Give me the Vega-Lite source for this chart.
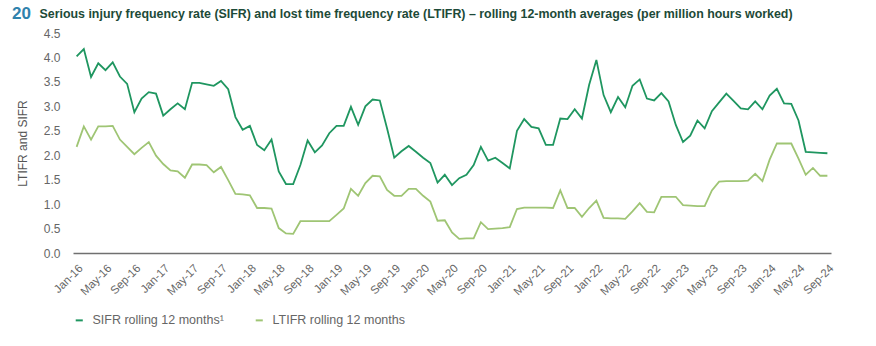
{
  "$schema": "https://vega.github.io/schema/vega-lite/v6.json",
  "width": 758,
  "height": 220,
  "autosize": {"type": "none"},
  "padding": {"left": 73, "top": 33, "right": 45, "bottom": 93},
  "background": "white",
  "config": {"view": {"stroke": null}, "font": "Liberation Sans"},
  "title": {
    "text": "20",
    "subtitle": "\u200b\u00a0\u00a0\u00a0\u00a0\u00a0\u00a0\u00a0\u00a0Serious injury frequency rate (SIFR) and lost time frequency rate (LTIFR) – rolling 12-month averages (per million hours worked)",
    "anchor": "start",
    "frame": "group",
    "dx": -61,
    "offset": 4,
    "fontSize": 17,
    "fontWeight": "bold",
    "color": "#2f82ad",
    "subtitleFontSize": 12.4,
    "subtitleFontWeight": "bold",
    "subtitleColor": "#1d4a38",
    "subtitlePadding": -15,
    "baseline": "top"
  },
  "data": {
    "values": [
      {"m":"Jan-16","SIFR":4.02,"LTIFR":2.17},{"m":"Feb-16","SIFR":4.17,"LTIFR":2.59},{"m":"Mar-16","SIFR":3.60,"LTIFR":2.32},{"m":"Apr-16","SIFR":3.88,"LTIFR":2.59},{"m":"May-16","SIFR":3.74,"LTIFR":2.59},{"m":"Jun-16","SIFR":3.90,"LTIFR":2.60},{"m":"Jul-16","SIFR":3.61,"LTIFR":2.32},{"m":"Aug-16","SIFR":3.46,"LTIFR":2.17},{"m":"Sep-16","SIFR":2.88,"LTIFR":2.02},{"m":"Oct-16","SIFR":3.16,"LTIFR":2.15},{"m":"Nov-16","SIFR":3.29,"LTIFR":2.27},{"m":"Dec-16","SIFR":3.26,"LTIFR":1.99},
      {"m":"Jan-17","SIFR":2.81,"LTIFR":1.82},{"m":"Feb-17","SIFR":2.94,"LTIFR":1.69},{"m":"Mar-17","SIFR":3.06,"LTIFR":1.67},{"m":"Apr-17","SIFR":2.94,"LTIFR":1.54},{"m":"May-17","SIFR":3.48,"LTIFR":1.81},{"m":"Jun-17","SIFR":3.48,"LTIFR":1.81},{"m":"Jul-17","SIFR":3.45,"LTIFR":1.80},{"m":"Aug-17","SIFR":3.42,"LTIFR":1.65},{"m":"Sep-17","SIFR":3.52,"LTIFR":1.76},{"m":"Oct-17","SIFR":3.35,"LTIFR":1.49},{"m":"Nov-17","SIFR":2.78,"LTIFR":1.21},{"m":"Dec-17","SIFR":2.52,"LTIFR":1.20},
      {"m":"Jan-18","SIFR":2.60,"LTIFR":1.18},{"m":"Feb-18","SIFR":2.21,"LTIFR":0.92},{"m":"Mar-18","SIFR":2.10,"LTIFR":0.92},{"m":"Apr-18","SIFR":2.32,"LTIFR":0.91},{"m":"May-18","SIFR":1.67,"LTIFR":0.51},{"m":"Jun-18","SIFR":1.41,"LTIFR":0.40},{"m":"Jul-18","SIFR":1.41,"LTIFR":0.39},{"m":"Aug-18","SIFR":1.80,"LTIFR":0.65},{"m":"Sep-18","SIFR":2.30,"LTIFR":0.65},{"m":"Oct-18","SIFR":2.06,"LTIFR":0.65},{"m":"Nov-18","SIFR":2.20,"LTIFR":0.65},{"m":"Dec-18","SIFR":2.45,"LTIFR":0.65},
      {"m":"Jan-19","SIFR":2.60,"LTIFR":0.78},{"m":"Feb-19","SIFR":2.60,"LTIFR":0.91},{"m":"Mar-19","SIFR":2.99,"LTIFR":1.31},{"m":"Apr-19","SIFR":2.62,"LTIFR":1.17},{"m":"May-19","SIFR":3.00,"LTIFR":1.43},{"m":"Jun-19","SIFR":3.14,"LTIFR":1.58},{"m":"Jul-19","SIFR":3.12,"LTIFR":1.57},{"m":"Aug-19","SIFR":2.55,"LTIFR":1.29},{"m":"Sep-19","SIFR":1.95,"LTIFR":1.17},{"m":"Oct-19","SIFR":2.08,"LTIFR":1.17},{"m":"Nov-19","SIFR":2.19,"LTIFR":1.31},{"m":"Dec-19","SIFR":2.07,"LTIFR":1.31},
      {"m":"Jan-20","SIFR":1.95,"LTIFR":1.17},{"m":"Feb-20","SIFR":1.84,"LTIFR":1.05},{"m":"Mar-20","SIFR":1.44,"LTIFR":0.66},{"m":"Apr-20","SIFR":1.60,"LTIFR":0.67},{"m":"May-20","SIFR":1.39,"LTIFR":0.42},{"m":"Jun-20","SIFR":1.53,"LTIFR":0.29},{"m":"Jul-20","SIFR":1.60,"LTIFR":0.30},{"m":"Aug-20","SIFR":1.80,"LTIFR":0.30},{"m":"Sep-20","SIFR":2.17,"LTIFR":0.63},{"m":"Oct-20","SIFR":1.89,"LTIFR":0.49},{"m":"Nov-20","SIFR":1.95,"LTIFR":0.50},{"m":"Dec-20","SIFR":1.84,"LTIFR":0.51},
      {"m":"Jan-21","SIFR":1.73,"LTIFR":0.53},{"m":"Feb-21","SIFR":2.50,"LTIFR":0.90},{"m":"Mar-21","SIFR":2.74,"LTIFR":0.93},{"m":"Apr-21","SIFR":2.58,"LTIFR":0.93},{"m":"May-21","SIFR":2.55,"LTIFR":0.93},{"m":"Jun-21","SIFR":2.21,"LTIFR":0.93},{"m":"Jul-21","SIFR":2.21,"LTIFR":0.92},{"m":"Aug-21","SIFR":2.75,"LTIFR":1.28},{"m":"Sep-21","SIFR":2.74,"LTIFR":0.92},{"m":"Oct-21","SIFR":2.94,"LTIFR":0.92},{"m":"Nov-21","SIFR":2.75,"LTIFR":0.74},{"m":"Dec-21","SIFR":3.44,"LTIFR":0.92},
      {"m":"Jan-22","SIFR":3.95,"LTIFR":1.07},{"m":"Feb-22","SIFR":3.23,"LTIFR":0.72},{"m":"Mar-22","SIFR":2.88,"LTIFR":0.71},{"m":"Apr-22","SIFR":3.19,"LTIFR":0.71},{"m":"May-22","SIFR":2.98,"LTIFR":0.70},{"m":"Jun-22","SIFR":3.42,"LTIFR":0.85},{"m":"Jul-22","SIFR":3.55,"LTIFR":1.02},{"m":"Aug-22","SIFR":3.16,"LTIFR":0.84},{"m":"Sep-22","SIFR":3.12,"LTIFR":0.83},{"m":"Oct-22","SIFR":3.27,"LTIFR":1.15},{"m":"Nov-22","SIFR":3.10,"LTIFR":1.15},{"m":"Dec-22","SIFR":2.62,"LTIFR":1.15},
      {"m":"Jan-23","SIFR":2.27,"LTIFR":0.98},{"m":"Feb-23","SIFR":2.40,"LTIFR":0.97},{"m":"Mar-23","SIFR":2.71,"LTIFR":0.96},{"m":"Apr-23","SIFR":2.55,"LTIFR":0.96},{"m":"May-23","SIFR":2.90,"LTIFR":1.28},{"m":"Jun-23","SIFR":3.08,"LTIFR":1.46},{"m":"Jul-23","SIFR":3.26,"LTIFR":1.47},{"m":"Aug-23","SIFR":3.11,"LTIFR":1.47},{"m":"Sep-23","SIFR":2.96,"LTIFR":1.47},{"m":"Oct-23","SIFR":2.94,"LTIFR":1.48},{"m":"Nov-23","SIFR":3.10,"LTIFR":1.62},{"m":"Dec-23","SIFR":2.94,"LTIFR":1.47},
      {"m":"Jan-24","SIFR":3.22,"LTIFR":1.91},{"m":"Feb-24","SIFR":3.36,"LTIFR":2.24},{"m":"Mar-24","SIFR":3.06,"LTIFR":2.24},{"m":"Apr-24","SIFR":3.05,"LTIFR":2.24},{"m":"May-24","SIFR":2.71,"LTIFR":1.93},{"m":"Jun-24","SIFR":2.07,"LTIFR":1.60},{"m":"Jul-24","SIFR":2.06,"LTIFR":1.74},{"m":"Aug-24","SIFR":2.05,"LTIFR":1.58},{"m":"Sep-24","SIFR":2.04,"LTIFR":1.58}
    ]
  },
  "transform": [{"fold": ["SIFR", "LTIFR"], "as": ["series", "value"]}],
  "mark": {"type": "line", "strokeWidth": 1.8},
  "encoding": {
    "x": {
      "field": "m",
      "type": "ordinal",
      "sort": null,
      "scale": {"type": "point", "padding": 0.5},
      "axis": {
        "title": null,
        "values": ["Jan-16","May-16","Sep-16","Jan-17","May-17","Sep-17","Jan-18","May-18","Sep-18","Jan-19","May-19","Sep-19","Jan-20","May-20","Sep-20","Jan-21","May-21","Sep-21","Jan-22","May-22","Sep-22","Jan-23","May-23","Sep-23","Jan-24","May-24","Sep-24"],
        "labelAngle": -45,
        "labelAlign": "right",
        "labelBaseline": "top",
        "labelPadding": 9,
        "labelFontSize": 11.5,
        "labelColor": "#666666",
        "ticks": false,
        "domainColor": "#707070",
        "domainWidth": 1.5,
        "grid": false
      }
    },
    "y": {
      "field": "value",
      "type": "quantitative",
      "scale": {"domain": [0, 4.5]},
      "axis": {
        "title": "LTIFR and SIFR",
        "titleFontSize": 12,
        "titleFontWeight": "normal",
        "titleColor": "#555555",
        "titlePadding": 14,
        "values": [0, 0.5, 1, 1.5, 2, 2.5, 3, 3.5, 4, 4.5],
        "format": ".1f",
        "labelFontSize": 12,
        "labelColor": "#666666",
        "labelPadding": 13,
        "ticks": false,
        "domain": false,
        "grid": false
      }
    },
    "color": {
      "field": "series",
      "type": "nominal",
      "scale": {"domain": ["SIFR", "LTIFR"], "range": ["#1f9660", "#9fc574"]},
      "legend": {
        "title": null,
        "orient": "none",
        "legendX": 0,
        "legendY": 281,
        "direction": "horizontal",
        "symbolType": "stroke",
        "symbolSize": 50,
        "symbolStrokeWidth": 2,
        "labelFontSize": 12.5,
        "labelColor": "#666666",
        "labelOffset": 7,
        "columnPadding": 27,
        "labelExpr": "datum.label == 'SIFR' ? 'SIFR rolling 12 months¹' : 'LTIFR rolling 12 months'"
      }
    }
  }
}
